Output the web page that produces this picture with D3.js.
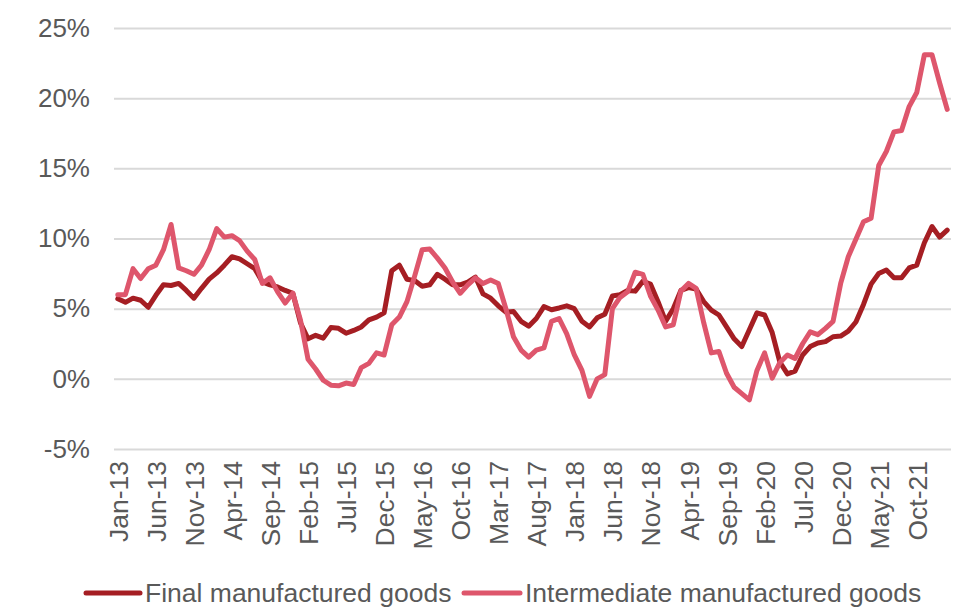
<!DOCTYPE html>
<html>
<head>
<meta charset="utf-8">
<script src="https://cdn.jsdelivr.net/npm/d3@7"></script>
<style>
  html, body { margin: 0; padding: 0; background: #ffffff; }
  svg { display: block; font-family: "Liberation Sans", Arial, sans-serif; }
</style>
</head>
<body>
<svg id="chart" width="963" height="607"></svg>
<script>
// Monthly categories, Jan-13 through Feb-22
const monthNames = ["Jan","Feb","Mar","Apr","May","Jun","Jul","Aug","Sep","Oct","Nov","Dec"];
const months = [];
for (let y = 13; y <= 22; y++) {
  for (let m = 0; m < 12; m++) {
    if (y === 22 && m > 1) break;
    months.push(monthNames[m] + "-" + y);
  }
}

// Labelled categories on the x axis
const tickLabels = ["Jan-13","Jun-13","Nov-13","Apr-14","Sep-14","Feb-15","Jul-15","Dec-15",
  "May-16","Oct-16","Mar-17","Aug-17","Jan-18","Jun-18","Nov-18","Apr-19","Sep-19",
  "Feb-20","Jul-20","Dec-20","May-21","Oct-21"];

// Y axis ticks (%)
const yTicks = [-5, 0, 5, 10, 15, 20, 25];

// Annual change, final manufactured goods (%)
const finalGoods = [
  5.7, 5.45, 5.75, 5.6, 5.1, 5.95, 6.7, 6.65, 6.8, 6.3,
  5.75, 6.45, 7.1, 7.55, 8.1, 8.7, 8.55, 8.2, 7.85, 6.9,
  6.7, 6.55, 6.3, 6.1, 4.0, 2.85, 3.1, 2.9, 3.65, 3.6,
  3.25, 3.45, 3.7, 4.2, 4.4, 4.7, 7.7, 8.1, 7.1, 7.0,
  6.6, 6.7, 7.45, 7.1, 6.7, 6.7, 6.9, 7.25, 6.05, 5.75,
  5.2, 4.75, 4.8, 4.1, 3.75, 4.3, 5.15, 4.92, 5.05, 5.2,
  5.0, 4.1, 3.7, 4.35, 4.6, 5.9, 6.0, 6.3, 6.25, 6.95,
  6.75, 5.5, 4.1, 5.0, 6.3, 6.5, 6.4, 5.5, 4.9, 4.55,
  3.7, 2.85, 2.3, 3.5, 4.7, 4.55, 3.3, 1.2, 0.35, 0.55,
  1.7, 2.3, 2.55, 2.65, 3.0, 3.05, 3.4, 4.05, 5.3, 6.75,
  7.5, 7.75, 7.2, 7.2, 7.9, 8.1, 9.7, 10.85, 10.1, 10.6
];

// Annual change, intermediate manufactured goods (%)
const intermediateGoods = [
  6.0, 6.0, 7.85, 7.15, 7.85, 8.1, 9.2, 11.0, 7.9, 7.7,
  7.45, 8.1, 9.2, 10.7, 10.1, 10.2, 9.85, 9.1, 8.5, 6.8,
  7.2, 6.2, 5.4, 6.1, 4.2, 1.4, 0.7, -0.1, -0.45, -0.5,
  -0.3, -0.4, 0.8, 1.1, 1.85, 1.7, 3.85, 4.4, 5.5, 7.3,
  9.2, 9.25, 8.6, 7.9, 6.9, 6.1, 6.7, 7.2, 6.8, 7.05,
  6.8, 5.0, 3.0, 2.05, 1.55, 2.05, 2.2, 4.1, 4.3, 3.2,
  1.7, 0.6, -1.25, 0.0, 0.3, 5.0, 5.8, 6.2, 7.6, 7.45,
  5.9, 4.9, 3.7, 3.85, 6.25, 6.8, 6.45, 4.0, 1.85, 1.95,
  0.4, -0.6, -1.05, -1.5, 0.6, 1.85, 0.05, 1.15, 1.7, 1.45,
  2.5, 3.35, 3.15, 3.6, 4.1, 6.8, 8.7, 9.95, 11.2, 11.45,
  15.2, 16.2, 17.6, 17.7, 19.4, 20.4, 23.1, 23.1, 21.1, 19.2
];

const seriesNames = ["Final manufactured goods", "Intermediate manufactured goods"];
const seriesColors = ["#A51E23", "#DE566C"];

const svg = d3.select("#chart");
const plot = { left: 114, right: 951, top: 28, bottom: 449 };

const x = d3.scalePoint().domain(months).range([plot.left, plot.right]).padding(0.5);
const y = d3.scaleLinear().domain([-5, 25]).range([plot.bottom, plot.top]);

// Horizontal gridlines with percentage labels
const yAxis = d3.axisLeft(y)
  .tickValues(yTicks)
  .tickSize(-(plot.right - plot.left))
  .tickPadding(24)
  .tickFormat(d => d + "%");

const gy = svg.append("g")
  .attr("transform", `translate(${plot.left},0)`)
  .call(yAxis);
gy.select(".domain").remove();
gy.selectAll(".tick line").attr("stroke", "#D9D9D9").attr("stroke-width", 2);
gy.selectAll(".tick text")
  .attr("fill", "#595959")
  .style("font-size", "26px");

// Rotated month labels
const xAxis = d3.axisBottom(x).tickValues(tickLabels).tickSize(0).tickPadding(0);
const gx = svg.append("g")
  .attr("transform", `translate(0,${plot.bottom})`)
  .call(xAxis);
gx.select(".domain").remove();
gx.selectAll(".tick text")
  .attr("fill", "#595959")
  .style("font-size", "26.5px")
  .attr("text-anchor", "end")
  .attr("transform", "rotate(-90)")
  .attr("x", -12)
  .attr("y", 0)
  .attr("dy", "0.36em");

// Series lines
const line = d3.line()
  .x((d, i) => x(months[i]))
  .y(d => y(d));

[finalGoods, intermediateGoods].forEach((values, k) => {
  svg.append("path")
    .datum(values)
    .attr("fill", "none")
    .attr("stroke", seriesColors[k])
    .attr("stroke-width", 5)
    .attr("stroke-linejoin", "round")
    .attr("stroke-linecap", "round")
    .attr("d", line);
});

// Legend
const legendItems = [
  { x0: 86, x1: 140, tx: 145 },
  { x0: 464, x1: 520, tx: 525 }
];
const legend = svg.append("g");
legendItems.forEach((it, k) => {
  legend.append("line")
    .attr("x1", it.x0).attr("x2", it.x1)
    .attr("y1", 593).attr("y2", 593)
    .attr("stroke", seriesColors[k])
    .attr("stroke-width", 5)
    .attr("stroke-linecap", "round");
  legend.append("text")
    .attr("x", it.tx)
    .attr("y", 602)
    .attr("fill", "#595959")
    .style("font-size", "26.5px")
    .text(seriesNames[k]);
});
</script>
</body>
</html>
